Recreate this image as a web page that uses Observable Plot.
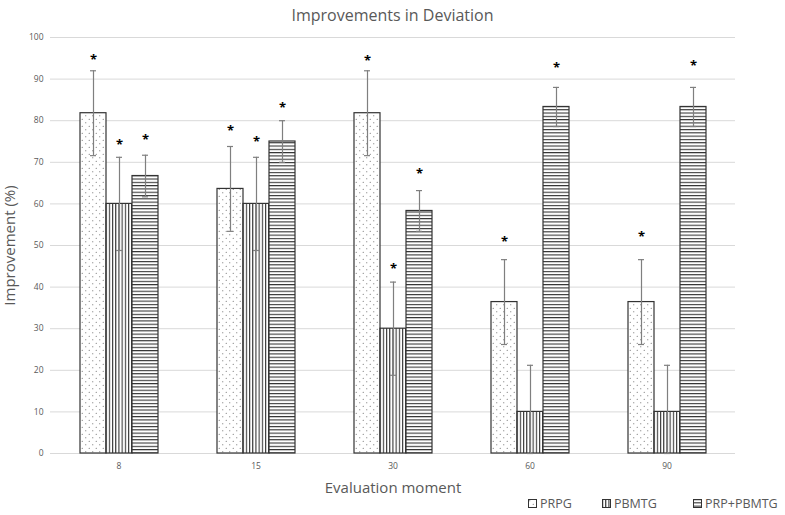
<!DOCTYPE html>
<html>
<head>
<meta charset="utf-8">
<script src="https://cdn.jsdelivr.net/npm/d3@7"></script>
<script src="https://cdn.jsdelivr.net/npm/@observablehq/plot@0.6"></script>
<style>
  body { margin: 0; background: #fff; font-family: "Open Sans", sans-serif; }
  #wrap { position: relative; width: 785px; height: 515px; overflow: hidden; }
  #title { height: 30px; line-height: 30px; text-align: center; font-size: 16px; color: #595959; }
  #chart { position: absolute; left: 0; top: 30px; }
  #legend { position: absolute; left: 0; top: 494px; width: 785px; height: 20px; font-size: 12.5px; color: #595959; }
  #legend .item { position: absolute; top: 0; height: 20px; line-height: 20px; white-space: nowrap; }
  #legend svg { vertical-align: middle; margin-right: 3px; margin-top: -2px; }
  #defs { position: absolute; width: 0; height: 0; }
</style>
</head>
<body>
<div id="wrap">
  <svg id="defs" width="0" height="0">
    <defs>
      <pattern id="pat-dots" patternUnits="userSpaceOnUse" width="7" height="7">
        <rect width="7" height="7" fill="#fff"></rect>
        <circle cx="1.75" cy="1.75" r="0.6" fill="#666"></circle>
        <circle cx="5.25" cy="5.25" r="0.6" fill="#666"></circle>
      </pattern>
      <pattern id="pat-vert" patternUnits="userSpaceOnUse" width="3.2" height="4">
        <rect width="3.2" height="4" fill="#fff"></rect>
        <rect x="0" y="0" width="1.1" height="4" fill="#333"></rect>
      </pattern>
      <pattern id="pat-horiz" patternUnits="userSpaceOnUse" width="4" height="3.3">
        <rect width="4" height="3.3" fill="#fff"></rect>
        <rect x="0" y="0" width="4" height="1.1" fill="#333"></rect>
      </pattern>
    </defs>
  </svg>
  <div id="title">Improvements in Deviation</div>
  <div id="chart"></div>
  <div id="legend"></div>
</div>
<script>
// ---- data ----
const moments = ["8", "15", "30", "60", "90"];
const seriesNames = ["PRPG", "PBMTG", "PRP+PBMTG"];
const prpgValues = [81.8, 63.6, 81.8, 36.4, 36.4];
const pbmtgValues = [60, 60, 30, 10, 10];
const prpPbmtgValues = [66.7, 75, 58.3, 83.3, 83.3];
const prpgErrors = [10.2, 10.2, 10.2, 10.2, 10.2];
const pbmtgErrors = [11.2, 11.2, 11.2, 11.2, 11.2];
const prpPbmtgErrors = [5.0, 5.0, 4.9, 4.7, 4.7];
const prpgStars = [95.2, 78, 95, 51.3, 52.7];
const pbmtgStars = [74.6, 75.4, 44.8, null, null];
const prpPbmtgStars = [76, 83.7, 67.8, 93.2, 93.8];
const yTicks = [0, 10, 20, 30, 40, 50, 60, 70, 80, 90, 100];

const patterns = {"PRPG": "url(#pat-dots)", "PBMTG": "url(#pat-vert)", "PRP+PBMTG": "url(#pat-horiz)"};

const valueLists = [prpgValues, pbmtgValues, prpPbmtgValues];
const errorLists = [prpgErrors, pbmtgErrors, prpPbmtgErrors];
const starLists = [prpgStars, pbmtgStars, prpPbmtgStars];

const rows = [];
moments.forEach((m, i) => {
  seriesNames.forEach((s, j) => {
    const v = valueLists[j][i], e = errorLists[j][i];
    rows.push({moment: m, series: s, value: v, lo: Math.max(0, v - e), hi: v + e, star: starLists[j][i]});
  });
});
const starRows = rows.filter(d => d.star != null);

const barMarks = seriesNames.map(s =>
  Plot.barY(rows.filter(d => d.series === s), {
    fx: "moment", x: "series", y: "value",
    fill: patterns[s], stroke: "#333", strokeWidth: 1.2
  })
);

const chart = Plot.plot({
  width: 785,
  height: 480,
  marginTop: 7,
  marginBottom: 57,
  marginLeft: 50,
  marginRight: 50,
  style: {fontFamily: "Open Sans, sans-serif", fontSize: "8.5px", color: "#595959", background: "#fff"},
  fx: {domain: moments, padding: 0, axis: "bottom", tickSize: 0, tickPadding: 9,
       label: "Evaluation moment", labelAnchor: "center", labelOffset: 39},
  x: {domain: seriesNames, paddingInner: 0, paddingOuter: 1.13, axis: null},
  y: {domain: [0, 100], ticks: yTicks, tickSize: 0, tickPadding: 7,
      label: "Improvement (%)", labelAnchor: "center", labelOffset: 46, labelArrow: "none"},
  marks: [
    Plot.gridY(yTicks, {stroke: "#d9d9d9", strokeOpacity: 1, strokeWidth: 1}),
    ...barMarks,
    Plot.ruleX(rows, {fx: "moment", x: "series", y1: "lo", y2: "hi", stroke: "#7f7f7f", strokeWidth: 1.2}),
    Plot.tickY(rows, {fx: "moment", x: "series", y: "hi", stroke: "#7f7f7f", strokeWidth: 1.2, insetLeft: 10, insetRight: 10}),
    Plot.tickY(rows, {fx: "moment", x: "series", y: "lo", stroke: "#7f7f7f", strokeWidth: 1.2, insetLeft: 10, insetRight: 10}),
    Plot.text(starRows, {fx: "moment", x: "series", y: "star", text: d => "*", fontSize: 13, fontWeight: "bold", fill: "#000", lineAnchor: "top", dy: -3})
  ]
});

document.getElementById("chart").appendChild(chart);
d3.select(chart).selectAll('[aria-label="y-axis label"] text, [aria-label="fx-axis label"] text')
  .style("font-size", "15px").attr("fill", "#595959");

// legend
const legend = d3.select("#legend");
const legendPos = [528, 602, 693];
seriesNames.forEach((s, i) => {
  const item = legend.append("div").attr("class", "item").style("left", legendPos[i] + "px");
  const sw = item.append("svg").attr("width", 9).attr("height", 9);
  sw.append("rect").attr("x", 0.5).attr("y", 0.5).attr("width", 8).attr("height", 8)
    .attr("fill", patterns[s]).attr("stroke", "#333").attr("stroke-width", 1);
  item.append("span").text(s);
});
</script>
</body>
</html>
